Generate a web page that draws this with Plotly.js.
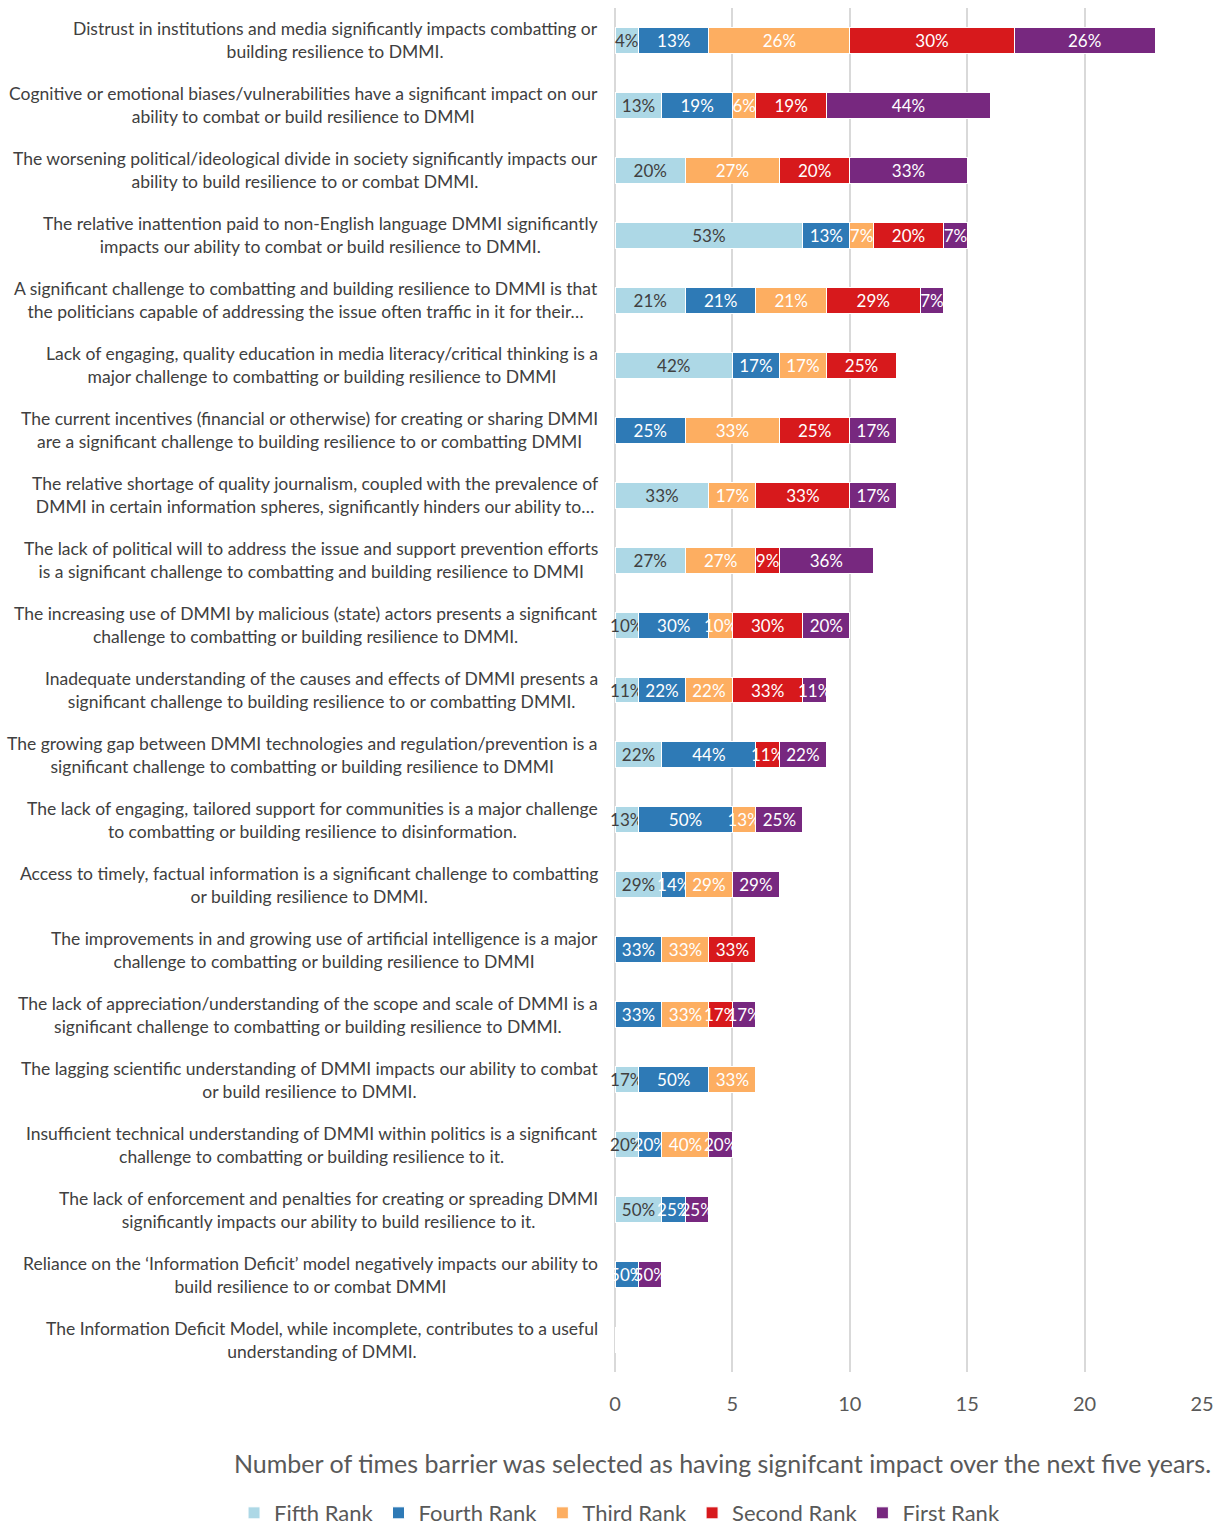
<!DOCTYPE html>
<html>
<head>
<meta charset="utf-8">
<script src="https://cdn.plot.ly/plotly-3.0.1.min.js"></script>
<style>html,body{margin:0;padding:0;background:#fff;}#chart{width:1222px;height:1528px;}</style>
</head>
<body>
<div id="chart"></div>
<script>
const categories = [
  "Distrust in institutions and media significantly impacts combatting or<br>building resilience to DMMI.",
  "Cognitive or emotional biases/vulnerabilities have a significant impact on our<br>ability to combat or build resilience to DMMI",
  "The worsening political/ideological divide in society significantly impacts our<br>ability to build resilience to or combat DMMI.",
  "The relative inattention paid to non-English language DMMI significantly<br>impacts our ability to combat or build resilience to DMMI.",
  "A significant challenge to combatting and building resilience to DMMI is that<br>the politicians capable of addressing the issue often traffic in it for their…",
  "Lack of engaging, quality education in media literacy/critical thinking is a<br>major challenge to combatting or building resilience to DMMI",
  "The current incentives (financial or otherwise) for creating or sharing DMMI<br>are a significant challenge to building resilience to or combatting DMMI",
  "The relative shortage of quality journalism, coupled with the prevalence of<br>DMMI in certain information spheres, significantly hinders our ability to…",
  "The lack of political will to address the issue and support prevention efforts<br>is a significant challenge to combatting and building resilience to DMMI",
  "The increasing use of DMMI by malicious (state) actors presents a significant<br>challenge to combatting or building resilience to DMMI.",
  "Inadequate understanding of the causes and effects of DMMI presents a<br>significant challenge to building resilience to or combatting DMMI.",
  "The growing gap between DMMI technologies and regulation/prevention is a<br>significant challenge to combatting or building resilience to DMMI",
  "The lack of engaging, tailored support for communities is a major challenge<br>to combatting or building resilience to disinformation.",
  "Access to timely, factual information is a significant challenge to combatting<br>or building resilience to DMMI.",
  "The improvements in and growing use of artificial intelligence is a major<br>challenge to combatting or building resilience to DMMI",
  "The lack of appreciation/understanding of the scope and scale of DMMI is a<br>significant challenge to combatting or building resilience to DMMI.",
  "The lagging scientific understanding of DMMI impacts our ability to combat<br>or build resilience to DMMI.",
  "Insufficient technical understanding of DMMI within politics is a significant<br>challenge to combatting or building resilience to it.",
  "The lack of enforcement and penalties for creating or spreading DMMI<br>significantly impacts our ability to build resilience to it.",
  "Reliance on the ‘Information Deficit’ model negatively impacts our ability to<br>build resilience to or combat DMMI",
  "The Information Deficit Model, while incomplete, contributes to a useful<br>understanding of DMMI."
];

const fifthRank  = [1, 2, 3, 8, 3, 5, 0, 4, 3, 1, 1, 2, 1, 2, 0, 0, 1, 1, 2, 0, 0];
const fourthRank = [3, 3, 0, 2, 3, 2, 3, 0, 0, 3, 2, 4, 4, 1, 2, 2, 3, 1, 1, 1, 0];
const thirdRank  = [6, 1, 4, 1, 3, 2, 4, 2, 3, 1, 2, 0, 1, 2, 2, 2, 2, 2, 0, 0, 0];
const secondRank = [7, 3, 3, 3, 4, 3, 3, 4, 1, 3, 3, 1, 0, 0, 2, 1, 0, 0, 0, 0, 0];
const firstRank  = [6, 7, 5, 1, 1, 0, 2, 2, 4, 2, 1, 2, 2, 2, 0, 1, 0, 1, 1, 1, 0];

const seriesNames = ["Fifth Rank", "Fourth Rank", "Third Rank", "Second Rank", "First Rank"];
const xTickValues = [0, 5, 10, 15, 20, 25];
const xAxisTitle = "Number of times barrier was selected as having signifcant impact over the next five years.";

const series = [fifthRank, fourthRank, thirdRank, secondRank, firstRank];
const colors = ["#ADD8E6", "#2E7AB6", "#FDAE61", "#D7191C", "#77287F"];
const textColors = ["#404040", "#ffffff", "#ffffff", "#ffffff", "#ffffff"];

const totals = categories.map((c, i) => series.reduce((s, arr) => s + arr[i], 0));

const traces = series.map((vals, k) => ({
  type: "bar",
  orientation: "h",
  name: seriesNames[k],
  y: categories,
  x: vals,
  text: vals.map((v, i) => v > 0 ? Math.round(v / totals[i] * 100) + "%" : ""),
  textposition: "inside",
  insidetextanchor: "middle",
  textangle: 0,
  constraintext: "none",
  cliponaxis: false,
  insidetextfont: {family: "Lato, sans-serif", size: 17, color: textColors[k]},
  marker: {color: colors[k], line: {color: "#ffffff", width: 1}},
  hoverinfo: "x+name"
}));

const annotations = categories.map(c => ({
  xref: "paper", yref: "y",
  x: 0, y: c,
  xshift: -15,
  xanchor: "right", yanchor: "middle",
  align: "center",
  text: c,
  showarrow: false,
  font: {family: "Lato, sans-serif", size: 17.5, color: "#404040"}
}));

annotations.push({
  xref: "paper", yref: "paper",
  x: 0.1823, y: -0.0667,
  xanchor: "center", yanchor: "middle",
  text: xAxisTitle,
  showarrow: false,
  font: {family: "Lato, sans-serif", size: 25, color: "#595959"}
});

const layout = {
  width: 1222,
  height: 1528,
  margin: {l: 615, r: 20, t: 8, b: 156, autoexpand: false},
  barmode: "stack",
  bargap: 0.6,
  paper_bgcolor: "#ffffff",
  plot_bgcolor: "#ffffff",
  showlegend: true,
  legend: {
    orientation: "h",
    x: -0.649, xanchor: "left",
    y: -0.1034, yanchor: "middle",
    traceorder: "normal",
    itemwidth: 30,
    font: {family: "Lato, sans-serif", size: 22, color: "#595959"}
  },
  xaxis: {
    range: [0, 25],
    tickvals: xTickValues,
    showgrid: true,
    gridcolor: "#D9D9D9",
    gridwidth: 2,
    zeroline: true,
    zerolinecolor: "#D9D9D9",
    zerolinewidth: 2,
    showline: false,
    ticks: "",
    ticklabelstandoff: 18,
    tickfont: {family: "Lato, sans-serif", size: 20, color: "#595959"},
    fixedrange: true
  },
  yaxis: {
    type: "category",
    categoryorder: "array",
    categoryarray: categories,
    autorange: "reversed",
    showticklabels: false,
    showgrid: false,
    zeroline: false,
    showline: false,
    ticks: "",
    fixedrange: true
  },
  annotations: annotations
};

Plotly.newPlot("chart", traces, layout, {displayModeBar: false, staticPlot: true});
</script>
</body>
</html>
